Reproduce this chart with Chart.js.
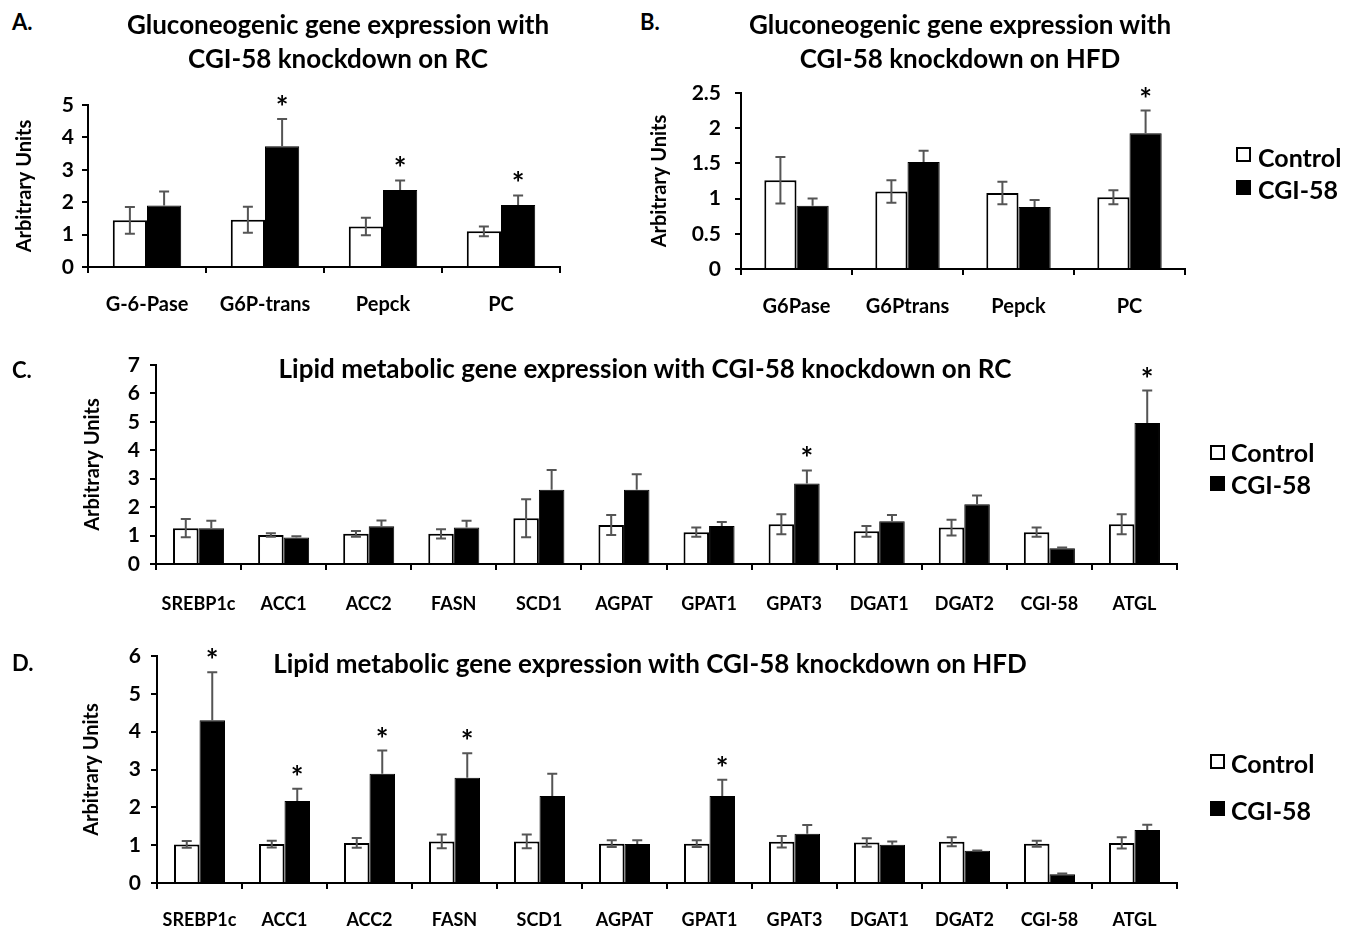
<!DOCTYPE html>
<html>
<head>
<meta charset="utf-8">
<script src="https://cdn.jsdelivr.net/npm/chart.js@4/dist/chart.umd.min.js"></script>
<style>
  html,body{margin:0;padding:0;background:#fff;}
  #wrap{position:relative;width:1351px;height:931px;overflow:hidden;font-family:Lato,"Open Sans",sans-serif;color:#000;}
  canvas{position:absolute;}
  .t{position:absolute;font-weight:bold;text-align:center;white-space:nowrap;}
  .lt{position:absolute;font-weight:bold;font-size:22px;}
  .lg{position:absolute;font-weight:bold;font-size:25px;white-space:nowrap;}
  .sw{position:absolute;width:15px;height:15px;box-sizing:border-box;border:2px solid #000;}
</style>
</head>
<body>
<div id="wrap">
  <canvas id="cA" width="620" height="267" style="left:0px;top:60px;"></canvas>
  <canvas id="cB" width="731" height="269" style="left:620px;top:60px;"></canvas>
  <canvas id="cC" width="1351" height="294" style="left:0px;top:330px;"></canvas>
  <canvas id="cD" width="1351" height="303" style="left:0px;top:625px;"></canvas>

  <div class="lt" style="left:12px;top:8px;">A.</div>
  <div class="lt" style="left:640px;top:8px;">B.</div>
  <div class="lt" style="left:12px;top:356px;">C.</div>
  <div class="lt" style="left:12px;top:649px;">D.</div>

  <div class="t" style="left:88px;width:500px;top:7px;font-size:26px;line-height:34px;">Gluconeogenic gene expression with<br>CGI-58 knockdown on RC</div>
  <div class="t" style="left:710px;width:500px;top:7px;font-size:26px;line-height:34px;">Gluconeogenic gene expression with<br>CGI-58 knockdown on HFD</div>
  <div class="t" style="left:195px;width:900px;top:351px;font-size:26px;line-height:34px;">Lipid metabolic gene expression with CGI-58 knockdown on RC</div>
  <div class="t" style="left:200px;width:900px;top:646px;font-size:26px;line-height:34px;">Lipid metabolic gene expression with CGI-58 knockdown on HFD</div>

  <div class="sw" style="left:1236px;top:147px;background:#fff;"></div>
  <div class="lg" style="left:1258px;top:142px;">Control</div>
  <div class="sw" style="left:1236px;top:180px;background:#000;"></div>
  <div class="lg" style="left:1258px;top:174px;">CGI-58</div>

  <div class="sw" style="left:1210px;top:445px;background:#fff;"></div>
  <div class="lg" style="left:1231px;top:437px;">Control</div>
  <div class="sw" style="left:1210px;top:476px;background:#000;"></div>
  <div class="lg" style="left:1231px;top:469px;">CGI-58</div>

  <div class="sw" style="left:1210px;top:754px;background:#fff;"></div>
  <div class="lg" style="left:1231px;top:748px;">Control</div>
  <div class="sw" style="left:1210px;top:801px;background:#000;"></div>
  <div class="lg" style="left:1231px;top:795px;">CGI-58</div>
</div>
<script>
// ---------- DATA ----------
const catsA = ['G-6-Pase','G6P-trans','Pepck','PC'];
const ctrlA = [1.44,1.46,1.25,1.10];
const ctrlErrA = [0.41,0.40,0.27,0.15];
const kdA = [1.90,3.73,2.38,1.91];
const kdErrA = [0.43,0.84,0.29,0.30];
const sigA = [false,true,true,true];
const ticksA = [0,1,2,3,4,5];

const catsB = ['G6Pase','G6Ptrans','Pepck','PC'];
const ctrlB = [1.26,1.10,1.08,1.02];
const ctrlErrB = [0.33,0.16,0.16,0.10];
const kdB = [0.90,1.52,0.88,1.93];
const kdErrB = [0.10,0.16,0.10,0.32];
const sigB = [false,false,false,true];
const ticksB = [0,0.5,1,1.5,2,2.5];

const catsC = ['SREBP1c','ACC1','ACC2','FASN','SCD1','AGPAT','GPAT1','GPAT3','DGAT1','DGAT2','CGI-58','ATGL'];
const ctrlC = [1.26,1.02,1.06,1.06,1.61,1.37,1.12,1.40,1.15,1.28,1.12,1.40];
const ctrlErrC = [0.32,0.06,0.10,0.16,0.67,0.35,0.16,0.35,0.19,0.28,0.16,0.35];
const kdC = [1.26,0.93,1.33,1.28,2.61,2.61,1.34,2.83,1.50,2.10,0.55,4.96];
const kdErrC = [0.26,0.05,0.20,0.24,0.70,0.55,0.14,0.46,0.22,0.31,0.03,1.14];
const sigC = [false,false,false,false,false,false,false,true,false,false,false,true];
const ticksC = [0,1,2,3,4,5,6,7];

const catsD = ['SREBP1c','ACC1','ACC2','FASN','SCD1','AGPAT','GPAT1','GPAT3','DGAT1','DGAT2','CGI-58','ATGL'];
const ctrlD = [1.02,1.03,1.06,1.10,1.10,1.04,1.04,1.09,1.07,1.09,1.04,1.06];
const ctrlErrD = [0.09,0.09,0.13,0.18,0.18,0.09,0.09,0.15,0.11,0.12,0.08,0.15];
const kdD = [4.30,2.17,2.89,2.78,2.30,1.03,2.30,1.30,1.01,0.85,0.23,1.40];
const kdErrD = [1.27,0.32,0.61,0.65,0.59,0.10,0.43,0.23,0.09,0.01,0.02,0.14];
const sigD = [true,true,true,true,false,false,true,false,false,false,false,false];
const ticksD = [0,1,2,3,4,5,6];

const seriesNames = ['Control','CGI-58'];
const FONT = 'Lato';

// ---------- error bars + significance stars ----------
const errPlugin = {
  id: 'errbars',
  afterDatasetsDraw(chart) {
    const ctx = chart.ctx;
    const y = chart.scales.y;
    chart.data.datasets.forEach((ds, di) => {
      const meta = chart.getDatasetMeta(di);
      meta.data.forEach((bar, i) => {
        const v = ds.data[i], e = ds.errors[i];
        const top = y.getPixelForValue(v + e);
        const bot = ds.bothWays ? y.getPixelForValue(v - e) : y.getPixelForValue(v);
        ctx.save();
        ctx.strokeStyle = '#555';
        ctx.lineWidth = 2;
        ctx.beginPath();
        ctx.moveTo(bar.x, top); ctx.lineTo(bar.x, bot);
        ctx.moveTo(bar.x - 5, top); ctx.lineTo(bar.x + 5, top);
        if (ds.bothWays) { ctx.moveTo(bar.x - 5, bot); ctx.lineTo(bar.x + 5, bot); }
        ctx.stroke();
        if (ds.sig && ds.sig[i]) {
          ctx.fillStyle = '#000';
          ctx.font = 'bold 30px ' + FONT;
          ctx.textAlign = 'center';
          ctx.textBaseline = 'alphabetic';
          ctx.fillText('*', bar.x, top - 1);
        }
        ctx.restore();
      });
    });
  }
};

function makeChart(id, cats, ctrl, ctrlErr, kd, kdErr, sig, tickVals, cfg) {
  new Chart(document.getElementById(id), {
    type: 'bar',
    data: {
      labels: cats,
      datasets: [
        { label: seriesNames[0], data: ctrl, errors: ctrlErr, bothWays: true,
          backgroundColor: '#fff', borderColor: '#000', borderWidth: 2,
          categoryPercentage: cfg.cp, barPercentage: 1.0 },
        { label: seriesNames[1], data: kd, errors: kdErr, bothWays: false, sig: sig,
          backgroundColor: '#000', borderColor: '#000', borderWidth: 1,
          categoryPercentage: cfg.cp, barPercentage: 1.0 }
      ]
    },
    options: {
      responsive: false,
      animation: false,
      devicePixelRatio: 1,
      layout: { padding: cfg.pad },
      plugins: { legend: { display: false }, tooltip: { enabled: false }, title: { display: false } },
      scales: {
        x: {
          grid: { display: true, drawOnChartArea: false, drawTicks: true, tickLength: 6, color: '#000', lineWidth: 2, offset: true },
          border: { display: true, color: '#000', width: 2 },
          ticks: { color: '#000', padding: cfg.xpad, font: { family: FONT, size: cfg.xfs, weight: 'bold' }, maxRotation: 0, autoSkip: false },
          afterFit(s) { s.height = cfg.xh; }
        },
        y: {
          min: tickVals[0], max: tickVals[tickVals.length - 1],
          afterBuildTicks(s) { s.ticks = tickVals.map(v => ({ value: v })); },
          grid: { display: true, drawOnChartArea: false, drawTicks: true, tickLength: 6, color: '#000', lineWidth: 2 },
          border: { display: true, color: '#000', width: 2 },
          ticks: { color: '#000', padding: cfg.ypad, font: { family: FONT, size: 21, weight: 'bold' },
                   callback: (v) => String(v) },
          title: { display: true, text: 'Arbitrary Units', color: '#000', font: { family: FONT, size: 20, weight: 'bold' } },
          afterFit(s) { s.width = cfg.yw; }
        }
      }
    },
    plugins: [errPlugin]
  });
}

makeChart('cA', catsA, ctrlA, ctrlErrA, kdA, kdErrA, sigA, ticksA,
  { cp: 0.58, pad: { left: 9, right: 60, top: 45, bottom: 0 }, yw: 79, xh: 60, xpad: 20, xfs: 20, ypad: 8 });
makeChart('cB', catsB, ctrlB, ctrlErrB, kdB, kdErrB, sigB, ticksB,
  { cp: 0.58, pad: { left: 24, right: 166, top: 33, bottom: 0 }, yw: 97, xh: 60, xpad: 20, xfs: 20, ypad: 14 });
makeChart('cC', catsC, ctrlC, ctrlErrC, kdC, kdErrC, sigC, ticksC,
  { cp: 0.60, pad: { left: 77, right: 174, top: 35, bottom: 0 }, yw: 79, xh: 60, xpad: 23, xfs: 18, ypad: 10 });
makeChart('cD', catsD, ctrlD, ctrlErrD, kdD, kdErrD, sigD, ticksD,
  { cp: 0.60, pad: { left: 76, right: 174, top: 31, bottom: 0 }, yw: 81, xh: 45, xpad: 20, xfs: 18, ypad: 10 });
</script>
</body>
</html>
